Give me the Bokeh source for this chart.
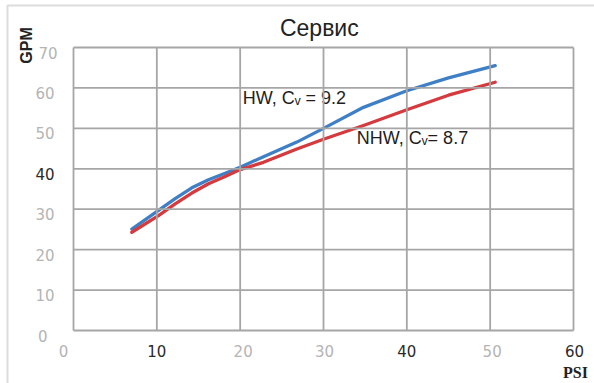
from bokeh.plotting import figure
from bokeh.models import Range1d, ColumnDataSource, BoxAnnotation
from bokeh.core.properties import value
from bokeh.embed import file_html
from bokeh.resources import INLINE

# ---------------- data ----------------
hw_psi = [7.0, 10.2, 12.2, 14.2, 16.2, 18.2, 20.0, 22.8, 26.8, 30.0, 34.8, 40.0, 45.0, 50.6]
hw_gpm = [25.1, 29.7, 32.6, 35.3, 37.3, 38.9, 40.4, 43.0, 46.6, 50.0, 55.2, 59.3, 62.5, 65.5]

nhw_psi = [7.0, 10.2, 12.2, 14.2, 16.2, 18.2, 20.0, 22.8, 26.8, 30.0, 34.8, 40.0, 45.0, 50.6]
nhw_gpm = [24.3, 28.4, 31.3, 34.0, 36.3, 38.1, 39.8, 41.6, 44.9, 47.3, 50.7, 54.6, 58.2, 61.4]

x_ticks = [0, 10, 20, 30, 40, 50, 60]
x_tick_labels = ["0", "10", "20", "30", "40", "50", "60"]
y_ticks = [0, 10, 20, 30, 40, 50, 60, 70]
y_tick_labels = ["0", "10", "20", "30", "40", "50", "60", "70"]

title_text = "Сервис"
x_label = "PSI"
y_label = "GPM"
hw_label = "HW, Cᵥ = 9.2"
nhw_label = "NHW, Cᵥ= 8.7"

# ---------------- style ----------------
W, H = 594, 383
PLOT_L, PLOT_R, PLOT_T, PLOT_B = 73, 573, 47, 330      # plot box in pixels
XS = (PLOT_R - PLOT_L) / (x_ticks[-1] - x_ticks[0])   # px per PSI
YS = (PLOT_B - PLOT_T) / (y_ticks[-1] - y_ticks[0])   # px per GPM


def dx(px):   # pixel distance -> PSI units
    return px / XS


def dy(px):   # pixel distance -> GPM units
    return px / YS


GRID = "#a6a6a6"
LIGHT = "#b4b4b4"
DARK = "#2a2a2a"
BLUE = "#3f7fc6"
RED = "#d43a3e"

x_label_colors = [LIGHT, DARK, LIGHT, LIGHT, DARK, LIGHT, DARK]
x_label_shift = [-10, 0, 3, 1, 0, 2, 1]
y_label_colors = [LIGHT, LIGHT, LIGHT, LIGHT, DARK, LIGHT, LIGHT, LIGHT]
y_label_shift = [-7, 0, 0, 0, 0, 0, 0, 3]

x0, x1 = x_ticks[0], x_ticks[-1]
y0, y1 = y_ticks[0], y_ticks[-1]

p = figure(width=W, height=H, output_backend="svg", toolbar_location=None,
           title=None,
           x_range=Range1d(x0 - dx(PLOT_L), x0 + dx(W - PLOT_L)),
           y_range=Range1d(y0 - dy(H - PLOT_B), y0 + dy(PLOT_B)),
           min_border_left=0, min_border_right=0,
           min_border_top=0, min_border_bottom=0)
p.xaxis.visible = False
p.yaxis.visible = False
p.xgrid.visible = False
p.ygrid.visible = False
p.background_fill_color = "white"
p.border_fill_color = "white"
p.outline_line_color = None

# outer picture frame (top and left edges)
p.add_layout(BoxAnnotation(left=x0 - dx(PLOT_L - 7), top=y0 + dy(PLOT_B - 5),
                           right=x1 + 100, bottom=y0 - 100,
                           fill_alpha=0, line_color="#8c8c8c", line_width=2,
                           level="underlay"))

# curves
p.line(hw_psi, hw_gpm, line_color=BLUE, line_width=3.3,
       line_join="round", line_cap="round")
p.line(nhw_psi, nhw_gpm, line_color=RED, line_width=3.3,
       line_join="round", line_cap="round")

# curve labels (under the grid as in the original)
p.text(x=[20.3], y=[57.6], text=[hw_label], text_font=value("Liberation Sans"),
       text_font_size="18px", text_color="#1e1e1e", text_align="left",
       text_baseline="middle")
p.text(x=[34.0], y=[47.7], text=[nhw_label], text_font=value("Liberation Sans"),
       text_font_size="18px", text_color="#1e1e1e", text_align="left",
       text_baseline="middle")

# grid + plot box drawn on top of curves, from the tick arrays
p.segment(x0=x_ticks, y0=[y0] * len(x_ticks), x1=x_ticks, y1=[y1] * len(x_ticks),
          line_color=GRID, line_width=1.8)
p.segment(x0=[x0] * len(y_ticks), y0=y_ticks, x1=[x1] * len(y_ticks), y1=y_ticks,
          line_color=GRID, line_width=1.8)

# tick labels
xsrc = ColumnDataSource(dict(
    x=[t + dx(s) for t, s in zip(x_ticks, x_label_shift)],
    y=[y0 - dy(20)] * len(x_ticks),
    text=x_tick_labels, color=x_label_colors))
p.text(x="x", y="y", text="text", source=xsrc, text_color="color",
       text_font=value("DejaVu Sans"), text_font_size="15px",
       text_align="center", text_baseline="middle")

ysrc = ColumnDataSource(dict(
    x=[x0 - dx(19) + dx(s) for s in y_label_shift],
    y=[t - dy(5) for t in y_ticks],
    text=y_tick_labels, color=y_label_colors))
p.text(x="x", y="y", text="text", source=ysrc, text_color="color",
       text_font=value("DejaVu Sans"), text_font_size="15px",
       text_align="right", text_baseline="middle")

# title and axis titles
p.text(x=[29.5], y=[y0 + dy(PLOT_B - 27)], text=[title_text],
       text_font=value("Liberation Sans"), text_font_size="23px",
       text_color="#222222", text_align="center", text_baseline="middle")
p.text(x=[x0 - dx(PLOT_L - 26)], y=[y0 + dy(PLOT_B - 45)], text=[y_label],
       angle=1.5708, text_font=value("Liberation Sans"), text_font_size="16px",
       text_font_style="bold", text_color="#222222",
       text_align="center", text_baseline="middle")
p.text(x=[x0 + dx(575 - PLOT_L)], y=[y0 - dy(372 - PLOT_B)], text=[x_label],
       text_font=value("Liberation Serif"), text_font_size="16px",
       text_font_style="bold", text_color="#222222",
       text_align="center", text_baseline="middle")

open("out.html", "w").write(file_html(p, INLINE))
